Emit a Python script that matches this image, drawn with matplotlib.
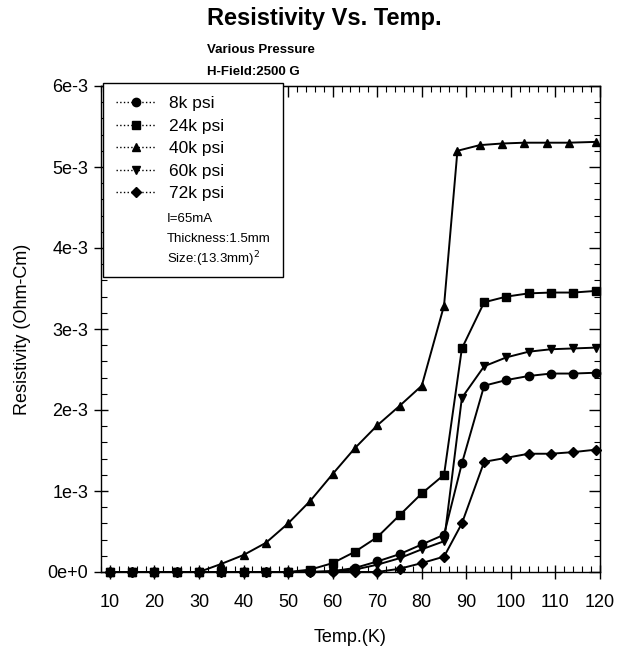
import numpy as np
import matplotlib
matplotlib.use("Agg")
import matplotlib.pyplot as plt
from matplotlib.ticker import MultipleLocator, FixedLocator, FixedFormatter, NullFormatter
from matplotlib.lines import Line2D
from matplotlib.patches import Rectangle

plt.rcParams['font.family'] = ['Liberation Sans', 'DejaVu Sans']

# temperatures (K)
t_low = [10, 15, 20, 25, 30, 35, 40, 45, 50, 55, 60, 65, 70, 75, 80, 85]
t_high = [89, 94, 99, 104, 109, 114, 119]
t_high_40k = [88, 93, 98, 103, 108, 113, 119]

# resistivity, in units of 1e-3 Ohm-cm
rho_8k = [0, 0, 0, 0, 0, 0, 0, 0, 0, 0, 0.01, 0.05, 0.13, 0.22, 0.34, 0.46,
          1.34, 2.30, 2.37, 2.42, 2.45, 2.45, 2.46]
rho_24k = [0, 0, 0, 0, 0, 0, 0, 0, 0, 0.03, 0.11, 0.25, 0.43, 0.70, 0.97, 1.20,
           2.76, 3.33, 3.40, 3.44, 3.45, 3.45, 3.47]
rho_40k = [0, 0, 0, 0, 0, 0.10, 0.21, 0.36, 0.60, 0.88, 1.21, 1.53, 1.81, 2.05, 2.30, 3.29,
           5.20, 5.27, 5.29, 5.30, 5.30, 5.30, 5.31]
rho_60k = [0, 0, 0, 0, 0, 0, 0, 0, 0, 0, 0.01, 0.03, 0.09, 0.17, 0.28, 0.38,
           2.15, 2.54, 2.65, 2.72, 2.75, 2.76, 2.77]
rho_72k = [0, 0, 0, 0, 0, 0, 0, 0, 0, 0, 0, 0, 0.0, 0.04, 0.11, 0.19,
           0.60, 1.36, 1.41, 1.46, 1.46, 1.48, 1.51]

labels = ['8k psi', '24k psi', '40k psi', '60k psi', '72k psi']
markers = ['o', 's', '^', 'v', 'D']
notes = ['I=65mA', 'Thickness:1.5mm', 'Size:(13.3mm)$^2$']

x_ticks = [10, 20, 30, 40, 50, 60, 70, 80, 90, 100, 110, 120]
y_ticks = [0, 1e-3, 2e-3, 3e-3, 4e-3, 5e-3, 6e-3]
y_ticklabels = ['0e+0', '1e-3', '2e-3', '3e-3', '4e-3', '5e-3', '6e-3']

fig = plt.figure(figsize=(6.23, 6.46), dpi=100)
ax = fig.add_axes([101/623, 74/646, 499/623, 486/646])

series = [(t_low + t_high, rho_8k), (t_low + t_high, rho_24k),
          (t_low + t_high_40k, rho_40k), (t_low + t_high, rho_60k),
          (t_low + t_high, rho_72k)]
for (t, r), m in zip(series, markers):
    ms = 5 if m == 'D' else 6
    ax.plot(t, np.array(r) * 1e-3, color='black', lw=1.4, marker=m,
            markersize=ms, clip_on=False, zorder=3)

ax.set_xlim(8, 120)
ax.set_ylim(0, 6e-3)
ax.xaxis.set_major_locator(FixedLocator(x_ticks))
ax.xaxis.set_minor_locator(MultipleLocator(2))
ax.yaxis.set_major_locator(FixedLocator(y_ticks))
ax.yaxis.set_major_formatter(FixedFormatter(y_ticklabels))
ax.yaxis.set_minor_locator(MultipleLocator(0.2e-3))

# bottom/left: major ticks cross the frame, minor ticks point inward
ax.tick_params(which='major', direction='inout', length=10, width=1, labelsize=13)
ax.tick_params(which='minor', direction='in', length=4, width=0.8)
ax.tick_params(axis='x', which='major', pad=11)
ax.tick_params(axis='y', which='major', pad=4)
for sp in ax.spines.values():
    sp.set_linewidth(1.0)

# top/right: inward ticks only, no labels
top = ax.secondary_xaxis('top')
top.xaxis.set_major_locator(FixedLocator(x_ticks))
top.xaxis.set_minor_locator(MultipleLocator(2))
top.xaxis.set_major_formatter(NullFormatter())
right = ax.secondary_yaxis('right')
right.yaxis.set_major_locator(FixedLocator(y_ticks))
right.yaxis.set_minor_locator(MultipleLocator(0.2e-3))
right.yaxis.set_major_formatter(NullFormatter())
for sec in (top, right):
    sec.tick_params(which='major', direction='in', length=8, width=1)
    sec.tick_params(which='minor', direction='in', length=4, width=0.8)

ax.set_xlabel('Temp.(K)', fontsize=13, labelpad=12.5)
ax.set_ylabel('Resistivity (Ohm-Cm)', fontsize=13, labelpad=12)

# legend box, drawn by hand so the notes fit inside it
box = Rectangle((0.004, 0.607), 0.361, 0.399, transform=ax.transAxes,
                facecolor='white', edgecolor='black', lw=1.0, zorder=5, clip_on=False)
ax.add_patch(box)

handles = [Line2D([], [], color='black', ls=':', lw=1, marker=m,
                  markersize=(5 if m == 'D' else 6)) for m in markers]
leg = ax.legend(handles, labels, loc='upper left', bbox_to_anchor=(0.004, 1.006),
                borderaxespad=0, fontsize=12.5, handlelength=2.3, handletextpad=0.75,
                labelspacing=0.42, frameon=False, borderpad=0.75)
leg.set_zorder(6)

for i, note in enumerate(notes):
    ax.text(0.132, 0.727 - i * 0.042, note, transform=ax.transAxes, fontsize=9.5,
            ha='left', va='center', zorder=6)

fig.text(207/623, 1 - 18/646, 'Resistivity Vs. Temp.', fontsize=17, fontweight='bold',
         ha='left', va='center')
fig.text(207/623, 1 - 50/646, 'Various Pressure', fontsize=9.5, fontweight='bold',
         ha='left', va='center')
fig.text(207/623, 1 - 72/646, 'H-Field:2500 G', fontsize=9.5, fontweight='bold',
         ha='left', va='center')

fig.savefig('out.png', dpi=100)
